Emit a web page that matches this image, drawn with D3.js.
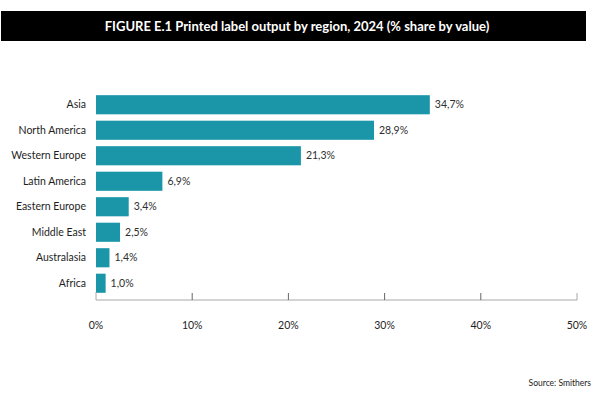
<!DOCTYPE html>
<html>
<head>
<meta charset="utf-8">
<script src="https://cdn.jsdelivr.net/npm/d3@7"></script>
<style>
  html, body { margin: 0; padding: 0; background: #fff; }
  svg { display: block; font-family: Lato, "Open Sans", sans-serif; }
  .title { fill: #fff; font-weight: 700; font-size: 13px; }
  .cat { fill: #1e1e1e; font-size: 10.5px; }
  .val { fill: #2e2e2e; font-size: 10.5px; }
  .tick-label { fill: #1e1e1e; font-size: 10.5px; }
  .source { fill: #222; font-size: 8.5px; }
</style>
</head>
<body>
<svg id="chart" width="600" height="393"></svg>
<script>
const regions = [
  "Asia", "North America", "Western Europe", "Latin America",
  "Eastern Europe", "Middle East", "Australasia", "Africa"
];
const shares = [34.7, 28.9, 21.3, 6.9, 3.4, 2.5, 1.4, 1.0];
const tickValues = [0, 10, 20, 30, 40, 50];

const titleText = "FIGURE E.1 Printed label output by region, 2024 (% share by value)";
const sourceText = "Source: Smithers";

const svg = d3.select("#chart");
const width = 600;
const margin = { top: 92, right: 23, left: 96 };
const axisY = 300;

const rows = regions.map((region, i) => ({ region, share: shares[i] }));

const x = d3.scaleLinear().domain([0, 50]).range([margin.left, width - margin.right]);
const y = d3.scaleBand()
  .domain(regions)
  .range([margin.top, 296])
  .paddingInner(0.25)
  .paddingOuter(0.125);

const pct = (v) => d3.format(".1f")(v).replace(".", ",") + "%";

// title band
svg.append("rect")
  .attr("x", 1)
  .attr("y", 11)
  .attr("width", 585)
  .attr("height", 30)
  .attr("fill", "#000");

svg.append("text")
  .attr("class", "title")
  .attr("x", 297)
  .attr("y", 30.5)
  .attr("text-anchor", "middle")
  .text(titleText);

// bars
svg.append("g")
  .selectAll("rect")
  .data(rows)
  .join("rect")
  .attr("x", x(0))
  .attr("y", (d) => y(d.region))
  .attr("width", (d) => x(d.share) - x(0))
  .attr("height", y.bandwidth())
  .attr("fill", "#1a96a8");

svg.append("g")
  .selectAll("text")
  .data(rows)
  .join("text")
  .attr("class", "val")
  .attr("x", (d) => x(d.share) + 5)
  .attr("y", (d) => y(d.region) + y.bandwidth() / 2)
  .attr("dy", "0.35em")
  .text((d) => pct(d.share));

svg.append("g")
  .selectAll("text")
  .data(rows)
  .join("text")
  .attr("class", "cat")
  .attr("x", 86)
  .attr("y", (d) => y(d.region) + y.bandwidth() / 2)
  .attr("dy", "0.35em")
  .attr("text-anchor", "end")
  .text((d) => d.region);

// axis
const axis = svg.append("g").attr("transform", `translate(0, ${axisY})`);
axis.append("line")
  .attr("x1", x(0))
  .attr("x2", x(50))
  .attr("stroke", "#a8a8a8")
  .attr("stroke-width", 1);

axis.selectAll("line.tick")
  .data(tickValues)
  .join("line")
  .attr("class", "tick")
  .attr("x1", (d) => x(d))
  .attr("x2", (d) => x(d))
  .attr("y1", 0)
  .attr("y2", (d) => (d === 0 ? -8 : -7))
  .attr("stroke", (d) => (d === 0 || d === 50 ? "#a8a8a8" : "#666"))
  .attr("stroke-width", 1);

axis.selectAll("text")
  .data(tickValues)
  .join("text")
  .attr("class", "tick-label")
  .attr("x", (d) => x(d))
  .attr("y", 25)
  .attr("dy", "0.35em")
  .attr("text-anchor", "middle")
  .text((d) => d + "%");

svg.append("text")
  .attr("class", "source")
  .attr("x", 591)
  .attr("y", 383)
  .attr("dy", "0.35em")
  .attr("text-anchor", "end")
  .text(sourceText);
</script>
</body>
</html>
